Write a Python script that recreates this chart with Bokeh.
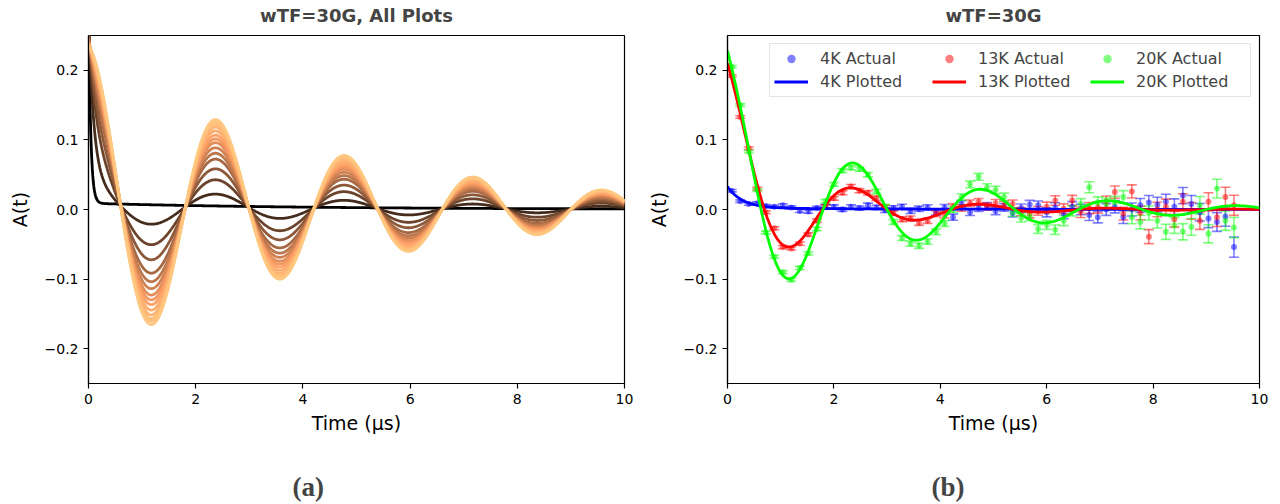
import numpy as np
from bokeh.plotting import figure
from bokeh.models import (ColumnDataSource, Whisker, TeeHead, Legend, LegendItem,
                          FixedTicker, Title)
from bokeh.layouts import row
from bokeh.embed import file_html
from bokeh.resources import INLINE

# ------------------------------------------------------------------ data
x_ticks = [0, 2, 4, 6, 8, 10]
y_ticks = [-0.2, -0.1, 0.0, 0.1, 0.2]
y_tick_labels = ["\u22120.2", "\u22120.1", "0.0", "0.1", "0.2"]

# panel (a): fitted curves for all temperatures (dark -> light)
precession_freq = 0.4167       # MHz (period 2.4 us)
osc_rate = 0.212               # 1/us
slow_rate = 0.24               # 1/us
curve_osc_amp = [0.000, 0.032, 0.068, 0.095, 0.119, 0.134, 0.147, 0.159,
                 0.168, 0.177, 0.187, 0.196, 0.203, 0.208, 0.214]
curve_fast_amp = [0.291, 0.243, 0.194, 0.158, 0.130, 0.112, 0.097, 0.083,
                  0.073, 0.063, 0.052, 0.042, 0.034, 0.028, 0.022]
curve_fast_rate = [25.0, 10.0, 7.0, 6.0, 5.0, 4.6, 4.3, 4.0,
                   3.8, 3.6, 3.4, 3.2, 3.0, 2.8, 2.6]
curve_slow_amp = [0.009, 0.005, 0.003, 0.002, 0.001, 0.0, 0.0, 0.0,
                  0.0, 0.0, 0.0, 0.0, 0.0, 0.0, 0.0]
curve_color_level = [0.0, 0.22, 0.34, 0.44, 0.52, 0.59, 0.65, 0.71,
                     0.76, 0.81, 0.86, 0.90, 0.94, 0.97, 1.0]

# panel (b): measured asymmetry
time_bins = [0.08, 0.24, 0.40, 0.56, 0.72, 0.88, 1.04, 1.20, 1.36, 1.52,
             1.68, 1.84, 2.00, 2.16, 2.32, 2.48, 2.64, 2.80, 2.96, 3.12,
             3.28, 3.44, 3.60, 3.76, 3.92, 4.08, 4.24, 4.40, 4.56, 4.72,
             4.88, 5.04, 5.20, 5.36, 5.52, 5.68, 5.84, 6.00, 6.16, 6.32,
             6.48, 6.64, 6.80, 6.96, 7.12, 7.28, 7.44, 7.60, 7.76, 7.92,
             8.08, 8.24, 8.40, 8.56, 8.72, 8.88, 9.04, 9.20, 9.36, 9.52]
a_4K = [0.027, 0.012, 0.008, 0.009, 0.005, 0.004, 0.006, 0.003, -0.002, -0.003,
        0.002, 0.005, 0.004, 0.000, 0.004, 0.002, 0.006, 0.003, -0.001, 0.002,
        0.004, -0.002, 0.001, 0.003, -0.004, 0.003, -0.011, 0.008, -0.004, 0.002,
        0.005, -0.002, 0.003, -0.005, 0.002, 0.007, 0.006, -0.004, 0.003, -0.006,
        0.004, 0.000, -0.008, -0.011, 0.000, 0.004, -0.011, 0.000, 0.006, 0.010,
        0.007, 0.011, 0.004, 0.020, 0.008, -0.004, -0.013, -0.018, -0.010, -0.054]
a_13K = [0.192, 0.133, 0.088, 0.030, -0.004, -0.027, -0.054, -0.056, -0.049, -0.036,
         -0.016, 0.004, 0.016, 0.024, 0.033, 0.027, 0.024, 0.016, 0.003, -0.005,
         -0.014, -0.013, -0.019, -0.016, -0.006, -0.008, 0.004, 0.002, 0.009, 0.011,
         0.004, 0.009, 0.006, 0.008, -0.003, -0.006, -0.002, 0.004, 0.013, 0.001,
         0.013, -0.004, 0.002, 0.003, 0.011, 0.025, -0.006, 0.026, -0.005, -0.039,
         0.000, 0.004, -0.014, 0.011, -0.002, -0.016, 0.011, -0.011, 0.018, 0.006]
a_20K = [0.205, 0.150, 0.083, 0.028, -0.033, -0.068, -0.090, -0.101, -0.084, -0.063,
         -0.028, 0.012, 0.036, 0.056, 0.060, 0.058, 0.050, 0.026, 0.004, -0.018,
         -0.041, -0.049, -0.052, -0.046, -0.032, -0.020, 0.000, 0.018, 0.036, 0.047,
         0.032, 0.028, 0.018, -0.004, -0.012, -0.010, -0.028, -0.022, -0.029, -0.016,
         -0.002, 0.008, 0.032, 0.010, 0.008, 0.010, 0.018, -0.011, -0.018, -0.005,
         -0.016, -0.032, -0.023, -0.032, -0.025, 0.006, -0.035, 0.030, -0.016, -0.026]
a_err = [0.0017, 0.0018, 0.0019, 0.0019, 0.0020, 0.0021, 0.0022, 0.0022, 0.0023, 0.0024,
         0.0025, 0.0026, 0.0027, 0.0028, 0.0029, 0.0030, 0.0031, 0.0032, 0.0033, 0.0034,
         0.0035, 0.0037, 0.0038, 0.0039, 0.0041, 0.0042, 0.0044, 0.0046, 0.0047, 0.0049,
         0.0051, 0.0053, 0.0055, 0.0057, 0.0059, 0.0061, 0.0063, 0.0066, 0.0068, 0.0071,
         0.0073, 0.0076, 0.0079, 0.0082, 0.0085, 0.0088, 0.0091, 0.0094, 0.0098, 0.0101,
         0.0105, 0.0109, 0.0113, 0.0117, 0.0121, 0.0126, 0.0130, 0.0135, 0.0140, 0.0145]

# panel (b): fitted model parameters (4K, 13K, 20K)
series_names = ["4K", "13K", "20K"]
series_colors = ["#0000ff", "#ff0000", "#00ff00"]
fit_osc_amp = [0.000, 0.120, 0.152]
fit_osc_rate = [0.0, 0.58, 0.346]
fit_fast_amp = [0.031, 0.090, 0.076]
fit_fast_rate = [3.5, 2.2, 3.3]
fit_base_amp = [0.002, 0.0, 0.0]
fit_base_rate = [0.3, 0.0, 0.0]

FONT = "DejaVu Sans"


def copper_hex(x):
    r = min(1.0, 1.25 * x)
    g = 0.7812 * x
    b = 0.4975 * x
    return "#%02x%02x%02x" % (int(round(r * 255)), int(round(g * 255)), int(round(b * 255)))


def style(p, title_text):
    p.title = None
    p.add_layout(Title(text=" ", text_font_size="4px", standoff=1), "above")
    p.add_layout(Title(text=title_text, align="center", standoff=4, text_font=FONT,
                       text_font_size="18px", text_font_style="bold"), "above")
    p.xgrid.visible = False
    p.ygrid.visible = False
    p.outline_line_color = "black"
    p.outline_line_width = 1.2
    p.outline_line_alpha = 1.0
    p.background_fill_color = "white"
    p.border_fill_color = "white"
    p.xaxis.ticker = FixedTicker(ticks=x_ticks)
    p.yaxis.ticker = FixedTicker(ticks=y_ticks)
    p.yaxis.major_label_overrides = {v: s for v, s in zip(y_ticks, y_tick_labels)}
    for ax in (p.xaxis[0], p.yaxis[0]):
        ax.axis_line_color = "black"
        ax.axis_line_width = 1.2
        ax.major_tick_line_color = "black"
        ax.major_tick_line_width = 1.2
        ax.major_tick_in = 0
        ax.major_tick_out = 5
        ax.minor_tick_line_color = None
        ax.major_label_text_font = FONT
        ax.major_label_text_font_size = "14px"
        ax.major_label_text_color = "black"
        ax.axis_label_text_font = FONT
        ax.axis_label_text_font_size = "19px"
        ax.axis_label_text_font_style = "normal"
        ax.axis_label_text_color = "black"
    p.xaxis.axis_label = "Time (\u03bcs)"
    p.yaxis.axis_label = "A(t)"
    p.xaxis.axis_label_standoff = 5
    p.yaxis.axis_label_standoff = 11


def add_caption(p, text, offset):
    spacer = Title(text=" ", text_font_size="20px", standoff=7)
    p.add_layout(spacer, "below")
    cap = Title(text=text, align="left", offset=offset, text_font="Liberation Serif",
                text_font_size="27px", text_font_style="bold", standoff=4)
    p.add_layout(cap, "below")


H = 503
t_model = np.linspace(0, 10, 1001)
omega = 2 * np.pi * precession_freq

# ------------------------------------------------------------------ panel (a)
p1 = figure(width=644, height=H, x_range=(0, 10), y_range=(-0.25, 0.25),
            output_backend="svg", toolbar_location=None,
            min_border_left=88, min_border_right=20, min_border_top=33, min_border_bottom=118)
style(p1, "wTF=30G, All Plots")
n_curves = len(curve_osc_amp)
for i in range(n_curves):
    y = (curve_osc_amp[i] * np.exp(-osc_rate * t_model) * np.cos(omega * t_model)
         + curve_fast_amp[i] * np.exp(-curve_fast_rate[i] * t_model)
         + curve_slow_amp[i] * np.exp(-slow_rate * t_model))
    p1.line(t_model, y, line_color=copper_hex(curve_color_level[i]), line_width=2.8)
add_caption(p1, "(a)", 204)

# ------------------------------------------------------------------ panel (b)
p2 = figure(width=636, height=H, x_range=(0, 10), y_range=(-0.25, 0.25),
            output_backend="svg", toolbar_location=None,
            min_border_left=79, min_border_right=21, min_border_top=33, min_border_bottom=118)
style(p2, "wTF=30G")

data_series = [a_4K, a_13K, a_20K]
scatter_r = []
line_r = []
for vals, c in zip(data_series, series_colors):
    src = ColumnDataSource(dict(t=time_bins, a=vals,
                                up=[v + e for v, e in zip(vals, a_err)],
                                lo=[v - e for v, e in zip(vals, a_err)]))
    w = Whisker(source=src, base="t", upper="up", lower="lo", dimension="height",
                line_color=c, line_alpha=0.5, line_width=1.6,
                upper_head=TeeHead(size=10, line_color=c, line_alpha=0.5, line_width=1.6),
                lower_head=TeeHead(size=10, line_color=c, line_alpha=0.5, line_width=1.6))
    p2.add_layout(w)
    scatter_r.append(p2.scatter("t", "a", source=src, size=6, fill_color=c,
                                fill_alpha=0.5, line_color=None))

for i, c in enumerate(series_colors):
    y = (fit_osc_amp[i] * np.exp(-fit_osc_rate[i] * t_model) * np.cos(omega * t_model)
         + fit_fast_amp[i] * np.exp(-fit_fast_rate[i] * t_model)
         + fit_base_amp[i] * np.exp(-fit_base_rate[i] * t_model))
    line_r.append(p2.line(t_model, y, line_color=c, line_width=2.8))

items = []
for i, name in enumerate(series_names):
    items.append(LegendItem(label=name + " Actual", renderers=[scatter_r[i]]))
    items.append(LegendItem(label=name + " Plotted", renderers=[line_r[i]]))
legend = Legend(items=items, location="top_right", orientation="vertical", nrows=2, ncols=3,
                label_text_font=FONT, label_text_font_size="16px",
                glyph_width=34, glyph_height=21, label_standoff=12, label_width=110,
                label_height=21, spacing=2, padding=4, margin=8,
                border_line_color="#cccccc", border_line_width=1,
                background_fill_alpha=0.8)
p2.add_layout(legend)
add_caption(p2, "(b)", 204)

layout = row(p1, p2)
open("out.html", "w").write(file_html(layout, INLINE))
